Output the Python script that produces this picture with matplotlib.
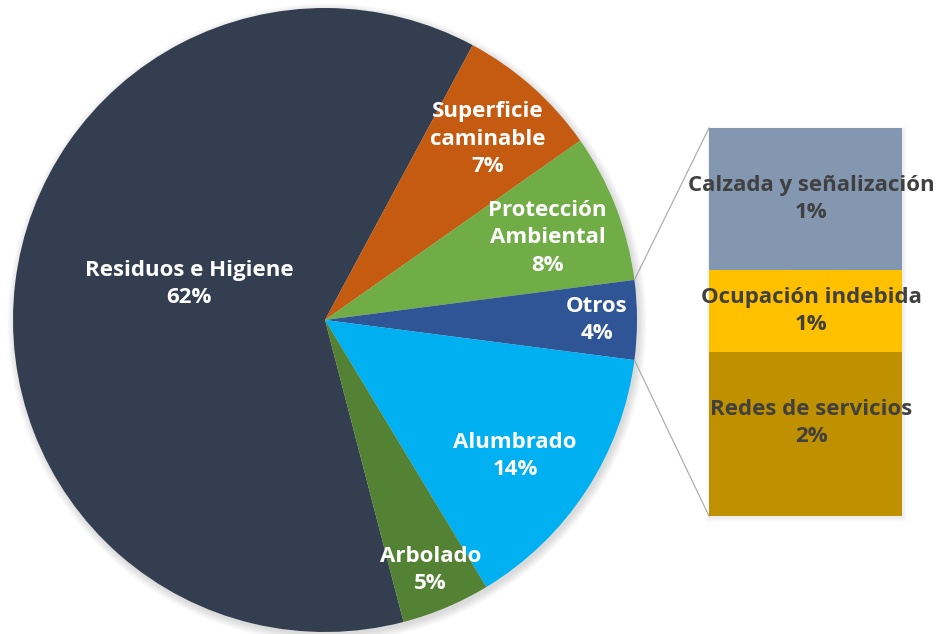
import matplotlib
matplotlib.use("Agg")
import matplotlib.pyplot as plt
from matplotlib.patches import Circle, Rectangle
import numpy as np

# ---- data ----
categories = ["Residuos e Higiene", "Superficie\ncaminable", "Protección\nAmbiental",
              "Otros", "Alumbrado", "Arbolado"]
values = [61.9, 7.4, 7.7, 4.1, 14.3, 4.6]
pct_labels = ["62%", "7%", "8%", "4%", "14%", "5%"]
colors = ["#333F50", "#C55A11", "#70AD47", "#2F5597", "#00B0F0", "#548235"]

sub_categories = ["Redes de servicios", "Ocupación indebida", "Calzada y señalización"]
sub_values = [1.73, 0.87, 1.50]
sub_pct_labels = ["2%", "1%", "1%"]
sub_colors = ["#BF9000", "#FFC000", "#8497B0"]

# ---- layout (pixels) ----
W, H = 939, 634
cx, cy, R = 325, H - 320, 312
bar_l, bar_r, bar_t, bar_b = 709, 902, 128, 516

plt.rcParams['font.family'] = ['Open Sans', 'DejaVu Sans']
FS = 16
LS = 1.4

fig = plt.figure(figsize=(W / 100, H / 100), dpi=100)
fig.patch.set_facecolor("white")
ax = fig.add_axes([0, 0, 1, 1])

# soft shadow
for i in range(12):
    ax.add_patch(Circle((cx + 2, cy - 3), R + i * 0.7, color="black",
                        alpha=0.010, zorder=0, lw=0))

otros_idx = categories.index("Otros")
start = 3.6 * (sum(values[:otros_idx]) + values[otros_idx] / 2)
wedges, _ = ax.pie(values, colors=colors, startangle=start, counterclock=False,
                   center=(cx, cy), radius=R, wedgeprops=dict(linewidth=0))
ax.set_xlim(0, W)
ax.set_ylim(0, H)
ax.set_aspect("equal")
ax.axis("off")

label_dist = [0.45, 0.78, 0.76, 0.87, 0.75, 0.87]
label_ang_off = [-8, -0.5, -1, 0, -2.5, 0]
for w, cat, pl, d, off in zip(wedges, categories, pct_labels, label_dist, label_ang_off):
    mid = np.deg2rad((w.theta1 + w.theta2) / 2 + off)
    x = cx + d * R * np.cos(mid)
    y = cy + d * R * np.sin(mid)
    ax.text(x, y, f"{cat}\n{pl}", ha="center", va="center", color="white",
            fontsize=FS, fontweight="bold", linespacing=LS, zorder=5)

# connector lines
w = wedges[otros_idx]
for ang, by in ((w.theta2, H - bar_t), (w.theta1, H - bar_b)):
    a = np.deg2rad(ang)
    ax.plot([cx + R * np.cos(a), bar_l], [cy + R * np.sin(a), by],
            color="#A6A6A6", lw=0.8, zorder=1)

# bar shadow
for i in range(6):
    ax.add_patch(Rectangle((bar_l + 1 - i * 0.8, H - bar_b - 2 - i * 0.8),
                           bar_r - bar_l + i * 1.6, bar_b - bar_t + i * 1.6,
                           color="black", alpha=0.012, lw=0, zorder=0))

# stacked bar
bax = fig.add_axes([bar_l / W, (H - bar_b) / H, (bar_r - bar_l) / W, (bar_b - bar_t) / H])
bottoms = np.concatenate([[0], np.cumsum(sub_values)[:-1]])
bax.bar(0, sub_values, bottom=bottoms, width=1, color=sub_colors, linewidth=0)
bax.set_xlim(-0.5, 0.5)
bax.set_ylim(0, sum(sub_values))
bax.axis("off")
text_yoff = [0.12, 0.0, 0.0]
for b, v, cat, pl, yo in zip(bottoms, sub_values, sub_categories, sub_pct_labels, text_yoff):
    bax.text(0.03, b + v / 2 + yo, f"{cat}\n{pl}", ha="center", va="center", color="#404040",
             fontsize=FS, fontweight="bold", linespacing=LS, clip_on=False)

fig.savefig("out.png", dpi=100, facecolor="white")
